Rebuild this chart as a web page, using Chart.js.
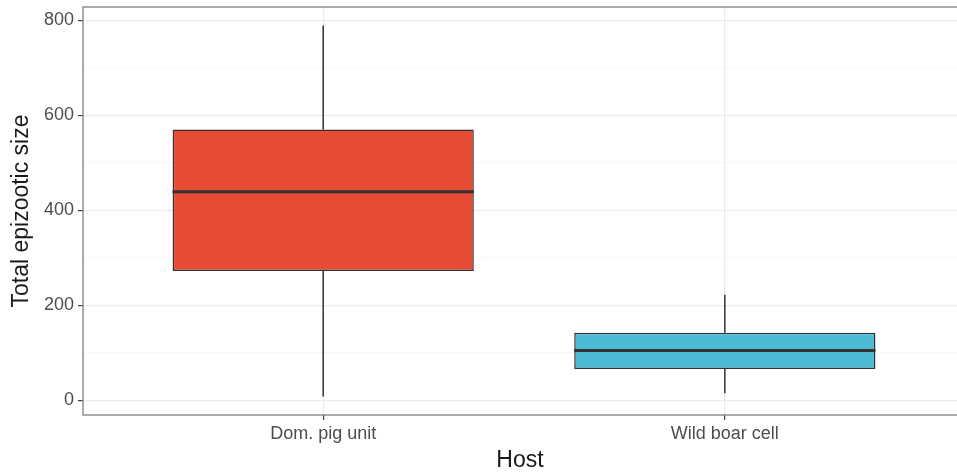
<!DOCTYPE html>
<html>
<head>
<meta charset="utf-8">
<script src="https://cdn.jsdelivr.net/npm/chart.js@4/dist/chart.umd.min.js"></script>
<style>
  html, body { margin: 0; padding: 0; background: #fff; }
  #wrap { width: 957px; height: 474px; position: relative; }
</style>
</head>
<body>
<div id="wrap"><canvas id="boxChart"></canvas></div>
<script>
// box plot summary values
var categories = ['Dom. pig unit', 'Wild boar cell'];
var whiskerLow = [8, 15];
var q1 = [272, 66];
var median = [439, 105];
var q3 = [570, 142];
var whiskerHigh = [789, 222];
var boxColors = ['#E64B35', '#4DBBD5'];
var yTicks = [0, 200, 400, 600, 800];
var yMinor = [100, 300, 500, 700];

var font = "'Liberation Sans', Arial, sans-serif";

// whiskers, medians and panel border, drawn through the chart scales
var boxExtras = {
    id: 'boxExtras',
    afterDatasetsDraw: function(chart) {
        var ctx = chart.ctx;
        var xs = chart.scales.x, ys = chart.scales.y;
        var meta = chart.getDatasetMeta(0);
        ctx.save();
        ctx.strokeStyle = '#333333';
        for (var i = 0; i < categories.length; i++) {
            var cx = xs.getPixelForValue(i + 1);
            ctx.lineWidth = 1.5;
            ctx.beginPath();
            ctx.moveTo(cx, ys.getPixelForValue(q3[i]));
            ctx.lineTo(cx, ys.getPixelForValue(whiskerHigh[i]));
            ctx.moveTo(cx, ys.getPixelForValue(q1[i]));
            ctx.lineTo(cx, ys.getPixelForValue(whiskerLow[i]));
            ctx.stroke();
            var bar = meta.data[i];
            var half = bar.width / 2;
            var my = ys.getPixelForValue(median[i]);
            ctx.lineWidth = 3;
            ctx.beginPath();
            ctx.moveTo(cx - half, my);
            ctx.lineTo(cx + half, my);
            ctx.stroke();
        }
        var a = chart.chartArea;
        ctx.strokeStyle = '#7f7f7f';
        ctx.lineWidth = 1.3;
        ctx.strokeRect(a.left, a.top, a.right - a.left + 5, a.bottom - a.top);
        ctx.restore();
    }
};

var ctx = document.getElementById('boxChart').getContext('2d');
var boxChart = new Chart(ctx, {
    type: 'bar',
    data: {
        datasets: [{
            data: categories.map(function(c, i) { return { x: i + 1, y: [q1[i], q3[i]] }; }),
            backgroundColor: boxColors,
            borderColor: '#333333',
            borderWidth: 1.5,
            borderSkipped: false,
            barPercentage: 0.75,
            categoryPercentage: 1
        }]
    },
    options: {
        responsive: true,
        maintainAspectRatio: false,
        animation: false,
        layout: { padding: { top: 7, right: 0, left: 0, bottom: 0 } },
        plugins: {
            legend: { display: false },
            tooltip: { enabled: false }
        },
        scales: {
            x: {
                type: 'linear',
                offset: false,
                min: 0.402,
                max: 2.578,
                afterBuildTicks: function(scale) {
                    scale.ticks = categories.map(function(c, i) { return { value: i + 1 }; });
                },
                afterFit: function(scale) {
                    scale.height = 59;
                    scale.paddingLeft = 0;
                    scale.paddingRight = 0;
                },
                ticks: {
                    autoSkip: false,
                    maxRotation: 0,
                    padding: 3,
                    color: '#4D4D4D',
                    font: { family: font, size: 18 },
                    callback: function(v) { return categories[Math.round(v) - 1]; }
                },
                grid: {
                    offset: false,
                    color: '#EBEBEB',
                    lineWidth: 1.2,
                    tickLength: 5,
                    tickColor: '#444444',
                    tickWidth: 1.2
                },
                border: { display: false },
                title: {
                    display: true,
                    text: 'Host',
                    color: '#1a1a1a',
                    font: { family: font, size: 23 },
                    padding: { top: 0, bottom: 0 }
                }
            },
            y: {
                min: -31,
                max: 828,
                afterBuildTicks: function(scale) {
                    scale.ticks = yTicks.concat(yMinor).sort(function(a, b) { return a - b; })
                        .map(function(v) { return { value: v }; });
                },
                afterFit: function(scale) {
                    scale.width = 83;
                    scale.paddingTop = 0;
                    scale.paddingBottom = 0;
                },
                ticks: {
                    padding: 4,
                    color: '#4D4D4D',
                    font: { family: font, size: 18 },
                    callback: function(v) { return yTicks.indexOf(v) >= 0 ? String(v) : ''; }
                },
                grid: {
                    color: function(c) { return yTicks.indexOf(c.tick.value) >= 0 ? '#EBEBEB' : '#F3F3F3'; },
                    lineWidth: function(c) { return yTicks.indexOf(c.tick.value) >= 0 ? 1.2 : 0.7; },
                    tickLength: 5,
                    tickColor: function(c) { return yTicks.indexOf(c.tick.value) >= 0 ? '#444444' : 'rgba(0,0,0,0)'; },
                    tickWidth: 1.2
                },
                border: { display: false },
                title: {
                    display: true,
                    text: 'Total epizootic size',
                    color: '#1a1a1a',
                    font: { family: font, size: 23 },
                    padding: { top: 8, bottom: 0 }
                }
            }
        }
    },
    plugins: [boxExtras]
});
</script>
</body>
</html>
